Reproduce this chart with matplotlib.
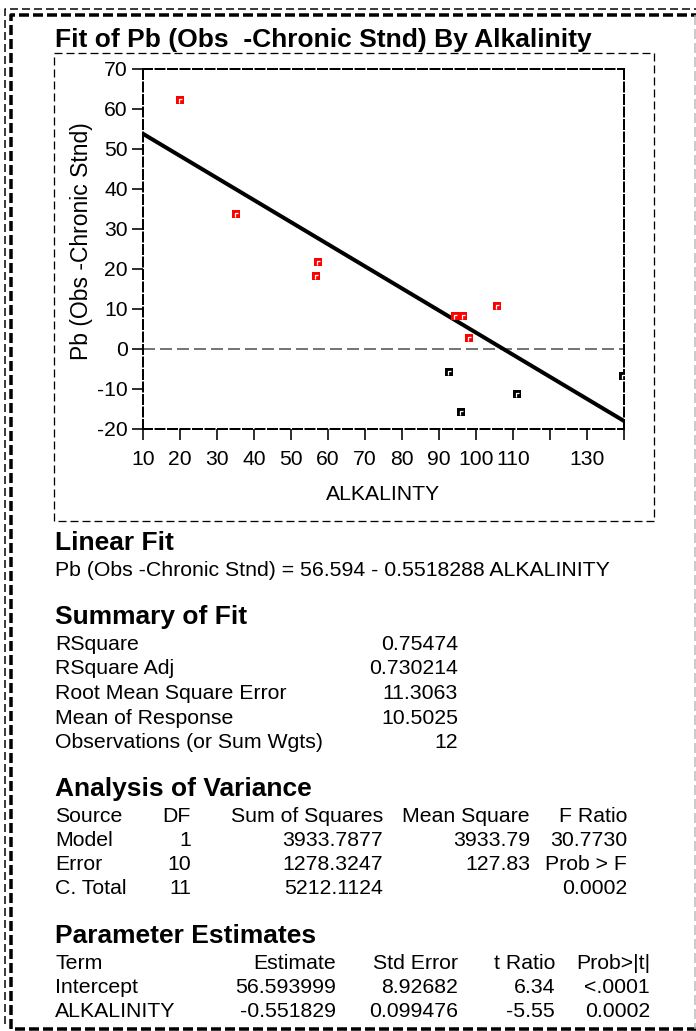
import matplotlib
matplotlib.use("Agg")
import matplotlib.pyplot as plt
from matplotlib.path import Path

plt.rcParams['font.family'] = ['Liberation Sans', 'DejaVu Sans']
plt.rcParams['lines.scale_dashes'] = False
plt.rcParams['axes.unicode_minus'] = False

# data
alk_red = [20.1, 35.2, 57.4, 56.8, 94.2, 96.5, 98.0, 105.6]
pb_red = [62.3, 33.7, 21.7, 18.3, 8.2, 8.2, 2.8, 10.8]
alk_black = [92.6, 95.9, 111.0, 139.8]
pb_black = [-5.8, -15.7, -11.2, -6.8]
fit_x = [10, 140]
fit_y = [53.8, -18.0]

x_ticks = [10, 20, 30, 40, 50, 60, 70, 80, 90, 100, 110, 120, 130, 140]
x_tick_labels = ['10', '20', '30', '40', '50', '60', '70', '80', '90', '100', '110', '', '130', '']
y_ticks = [-20, -10, 0, 10, 20, 30, 40, 50, 60, 70]

title = "Fit of Pb (Obs  -Chronic Stnd) By Alkalinity"
y_label = "Pb (Obs -Chronic Stnd)"
x_label = "ALKALINTY"
equation = "Pb (Obs -Chronic Stnd) = 56.594 - 0.5518288 ALKALINITY"

summary_labels = ["RSquare", "RSquare Adj", "Root Mean Square Error",
                  "Mean of Response", "Observations (or Sum Wgts)"]
summary_values = ["0.75474", "0.730214", "11.3063", "10.5025", "12"]

anova_header = ["Source", "DF", "Sum of Squares", "Mean Square", "F Ratio"]
anova_source = ["Model", "Error", "C. Total"]
anova_df = ["1", "10", "11"]
anova_ss = ["3933.7877", "1278.3247", "5212.1124"]
anova_ms = ["3933.79", "127.83", ""]
anova_f = ["30.7730", "Prob > F", "0.0002"]

param_header = ["Term", "Estimate", "Std Error", "t Ratio", "Prob>|t|"]
param_term = ["Intercept", "ALKALINITY"]
param_est = ["56.593999", "-0.551829"]
param_se = ["8.92682", "0.099476"]
param_t = ["6.34", "-5.55"]
param_p = ["<.0001", "0.0002"]

W, H = 696, 1031
fig = plt.figure(figsize=(W / 100, H / 100), dpi=100)

# background layer in pixel units for boxes and the report text
bg = fig.add_axes([0, 0, 1, 1], zorder=0)
bg.set_xlim(0, W)
bg.set_ylim(H, 0)
bg.axis("off")

px = 0.72  # points per pixel
# outer borders
bg.plot([5, 5, W + 5], [1024, 9, 9], color="black", lw=1.5 * px,
        linestyle=(0, (8 * px, 4 * px)))
bg.plot([W + 2, 11, 11, W + 2], [1029, 1029, 15, 15], color="black", lw=3.5 * px,
        linestyle=(0, (10 * px, 4 * px)))
bg.plot([695, 695], [15, 1029], color="#bbbbbb", lw=1.5 * px,
        linestyle=(0, (10 * px, 4 * px)))
# frame around the plot
bg.plot([54, 654, 654, 54, 54], [53, 53, 521, 521, 53], color="black", lw=1.3 * px,
        linestyle=(0, (8 * px, 4 * px)))

head = dict(fontsize=19.0, fontweight="bold", va="baseline")
body = dict(fontsize=15.3, va="baseline")

bg.text(55, 47, title, **head)

bg.text(55, 550, "Linear Fit", **head)
bg.text(55, 576, equation, **body)

bg.text(55, 624, "Summary of Fit", **head)
for i, (lab, val) in enumerate(zip(summary_labels, summary_values)):
    yb = 650 + i * 24.5
    bg.text(55, yb, lab, ha="left", **body)
    bg.text(458, yb, val, ha="right", **body)

bg.text(55, 796, "Analysis of Variance", **head)
anova_right = [191, 383, 530, 627]
bg.text(55, 822, anova_header[0], ha="left", **body)
for xr, h in zip(anova_right, anova_header[1:]):
    bg.text(xr, 822, h, ha="right", **body)
for i in range(len(anova_source)):
    yb = 846 + i * 24
    bg.text(55, yb, anova_source[i], ha="left", **body)
    for xr, col in zip(anova_right, [anova_df, anova_ss, anova_ms, anova_f]):
        bg.text(xr, yb, col[i], ha="right", **body)

bg.text(55, 943, "Parameter Estimates", **head)
param_right = [336, 458, 555, 650]
bg.text(55, 969, param_header[0], ha="left", **body)
for xr, h in zip(param_right, param_header[1:]):
    bg.text(xr, 969, h, ha="right", **body)
for i in range(len(param_term)):
    yb = 993 + i * 24
    bg.text(55, yb, param_term[i], ha="left", **body)
    for xr, col in zip(param_right, [param_est, param_se, param_t, param_p]):
        bg.text(xr, yb, col[i], ha="right", **body)

# the scatter plot
ax = fig.add_axes([143 / W, 1 - 429 / H, 481 / W, 360 / H], zorder=1)
ax.set_facecolor("none")
ax.set_xlim(10, 140)
ax.set_ylim(-20, 70)

ax.axhline(0, color="#555555", lw=1.6 * px, linestyle=(0, (12 * px, 5 * px)), zorder=1)
ax.plot(fit_x, fit_y, color="black", lw=4 * px, solid_capstyle="butt", zorder=2)

# JMP style square marker with a small white corner mark
corner = Path([(-0.15, -0.5), (-0.15, 0.2), (0.35, 0.2)], [Path.MOVETO, Path.LINETO, Path.LINETO])
ax.plot(alk_red, pb_red, "s", color="#ff0000", ms=6, mew=0, zorder=3)
ax.plot(alk_black, pb_black, "s", color="black", ms=6, mew=0, zorder=3)
ax.plot(alk_red + alk_black, pb_red + pb_black, linestyle="none", marker=corner,
        ms=4, mfc="none", mec="white", mew=0.9, zorder=4)

for s in ax.spines.values():
    s.set_linewidth(2 * px)
    s.set_linestyle((0, (9 * px, 3.5 * px)))
ax.set_xticks(x_ticks)
ax.set_xticklabels(x_tick_labels)
ax.set_yticks(y_ticks)
ax.tick_params(direction="out", length=11 * px, width=1.6 * px, labelsize=15.2,
               colors="black", pad=3)
ax.tick_params(axis="x", pad=7)
ax.set_xlabel(x_label, fontsize=15.2, labelpad=12)
ax.set_ylabel(y_label, fontsize=16.5)
ax.yaxis.set_label_coords(-0.104, 0.522)

fig.savefig("out.png", dpi=100)
